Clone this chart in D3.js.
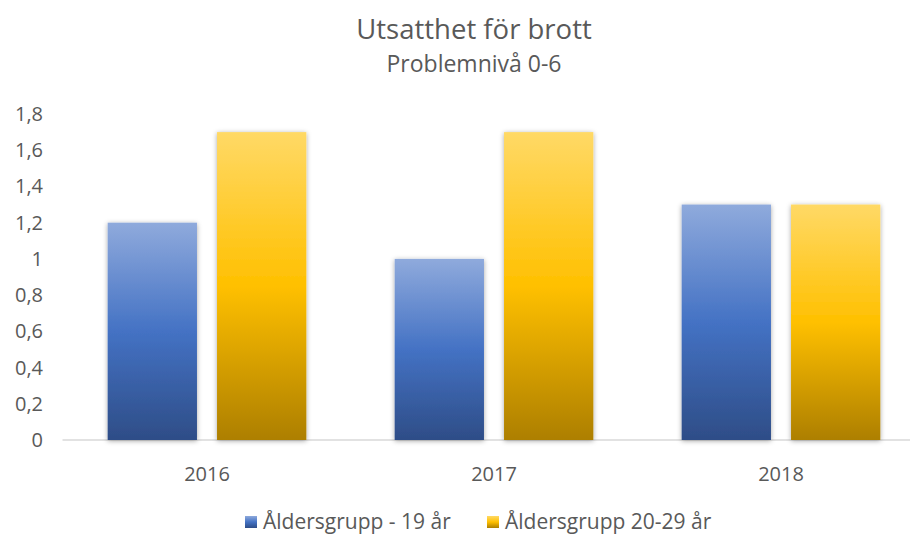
<!DOCTYPE html>
<html>
<head>
<meta charset="utf-8">
<script src="https://cdn.jsdelivr.net/npm/d3@7"></script>
<style>
  body { margin: 0; background: #fff; }
  text { font-family: "Open Sans", "Noto Sans", sans-serif; fill: #595959; }
</style>
</head>
<body>
<svg width="910" height="535"></svg>
<script>
var years = ["2016", "2017", "2018"];
var seriesNames = ["Åldersgrupp - 19 år", "Åldersgrupp 20-29 år"];
var young = [1.2, 1.0, 1.3];
var older = [1.7, 1.7, 1.3];
var yTicks = [0, 0.2, 0.4, 0.6, 0.8, 1, 1.2, 1.4, 1.6, 1.8];

var svg = d3.select("svg"),
    width = +svg.attr("width"),
    height = +svg.attr("height");

var margin = {left: 63.5, right: -14.5, top: 114, bottom: 95};
var plotBottom = height - margin.bottom;

var defs = svg.append("defs");
function grad(id, stops) {
  var g = defs.append("linearGradient").attr("id", id)
      .attr("x1", 0).attr("y1", 0).attr("x2", 0).attr("y2", 1);
  stops.forEach(function(s) {
    g.append("stop").attr("offset", s[0]).attr("stop-color", s[1]);
  });
}
grad("gBlue", [[0, "#8faadc"], [0.5, "#4472c4"], [1, "#2e4d87"]]);
grad("gYellow", [[0, "#ffd966"], [0.5, "#ffc000"], [1, "#ad7f00"]]);
var f = defs.append("filter").attr("id", "shadow")
    .attr("x", "-20%").attr("y", "-10%").attr("width", "140%").attr("height", "120%");
f.append("feDropShadow").attr("dx", 0).attr("dy", 1).attr("stdDeviation", 2.5)
    .attr("flood-color", "#000").attr("flood-opacity", 0.35);

var x = d3.scaleBand().domain(years).range([margin.left, width - margin.right]);
var x1 = d3.scaleBand().domain([0, 1]).range([0, x.bandwidth()])
    .paddingInner(0.1835).paddingOuter(0.404);
var y = d3.scaleLinear().domain([0, 1.8]).range([plotBottom, margin.top]);

// y tick labels
svg.append("g").selectAll("text")
  .data(yTicks)
  .enter().append("text")
    .attr("x", 43)
    .attr("y", function(d) { return y(d); })
    .attr("dy", "0.35em")
    .attr("text-anchor", "end")
    .style("font-size", "20px")
    .text(function(d) { return String(d).replace(".", ","); });

// axis line
svg.append("line")
    .attr("x1", margin.left - 1).attr("x2", width)
    .attr("y1", plotBottom).attr("y2", plotBottom)
    .attr("stroke", "#d9d9d9").attr("stroke-width", 1.5);

// bars
var fills = ["url(#gBlue)", "url(#gYellow)"];
var data = [];
years.forEach(function(yr, i) {
  data.push({year: yr, s: 0, v: young[i]});
  data.push({year: yr, s: 1, v: older[i]});
});
svg.append("g").selectAll("rect")
  .data(data)
  .enter().append("rect")
    .attr("x", function(d) { return x(d.year) + x1(d.s); })
    .attr("y", function(d) { return y(d.v); })
    .attr("width", x1.bandwidth())
    .attr("height", function(d) { return plotBottom - y(d.v); })
    .attr("fill", function(d) { return fills[d.s]; })
    .attr("filter", "url(#shadow)");

// x labels
svg.append("g").selectAll("text")
  .data(years)
  .enter().append("text")
    .attr("x", function(d) { return x(d) + x.bandwidth() / 2; })
    .attr("y", 481)
    .attr("text-anchor", "middle")
    .style("font-size", "20px")
    .text(function(d) { return d; });

// titles
svg.append("text")
    .attr("x", 474).attr("y", 39)
    .attr("text-anchor", "middle")
    .style("font-size", "27.5px")
    .text("Utsatthet för brott");
svg.append("text")
    .attr("x", 474).attr("y", 72)
    .attr("text-anchor", "middle")
    .style("font-size", "23px")
    .text("Problemnivå 0-6");

// legend
var legX = [245, 487];
var leg = svg.append("g").selectAll("g")
  .data(seriesNames)
  .enter().append("g")
    .attr("transform", function(d, i) { return "translate(" + legX[i] + ",516)"; });
leg.append("rect")
    .attr("width", 12).attr("height", 12)
    .attr("fill", function(d, i) { return fills[i]; });
leg.append("text")
    .attr("x", 18).attr("y", 13)
    .style("font-size", "21px")
    .text(function(d) { return d; });
</script>
</body>
</html>
